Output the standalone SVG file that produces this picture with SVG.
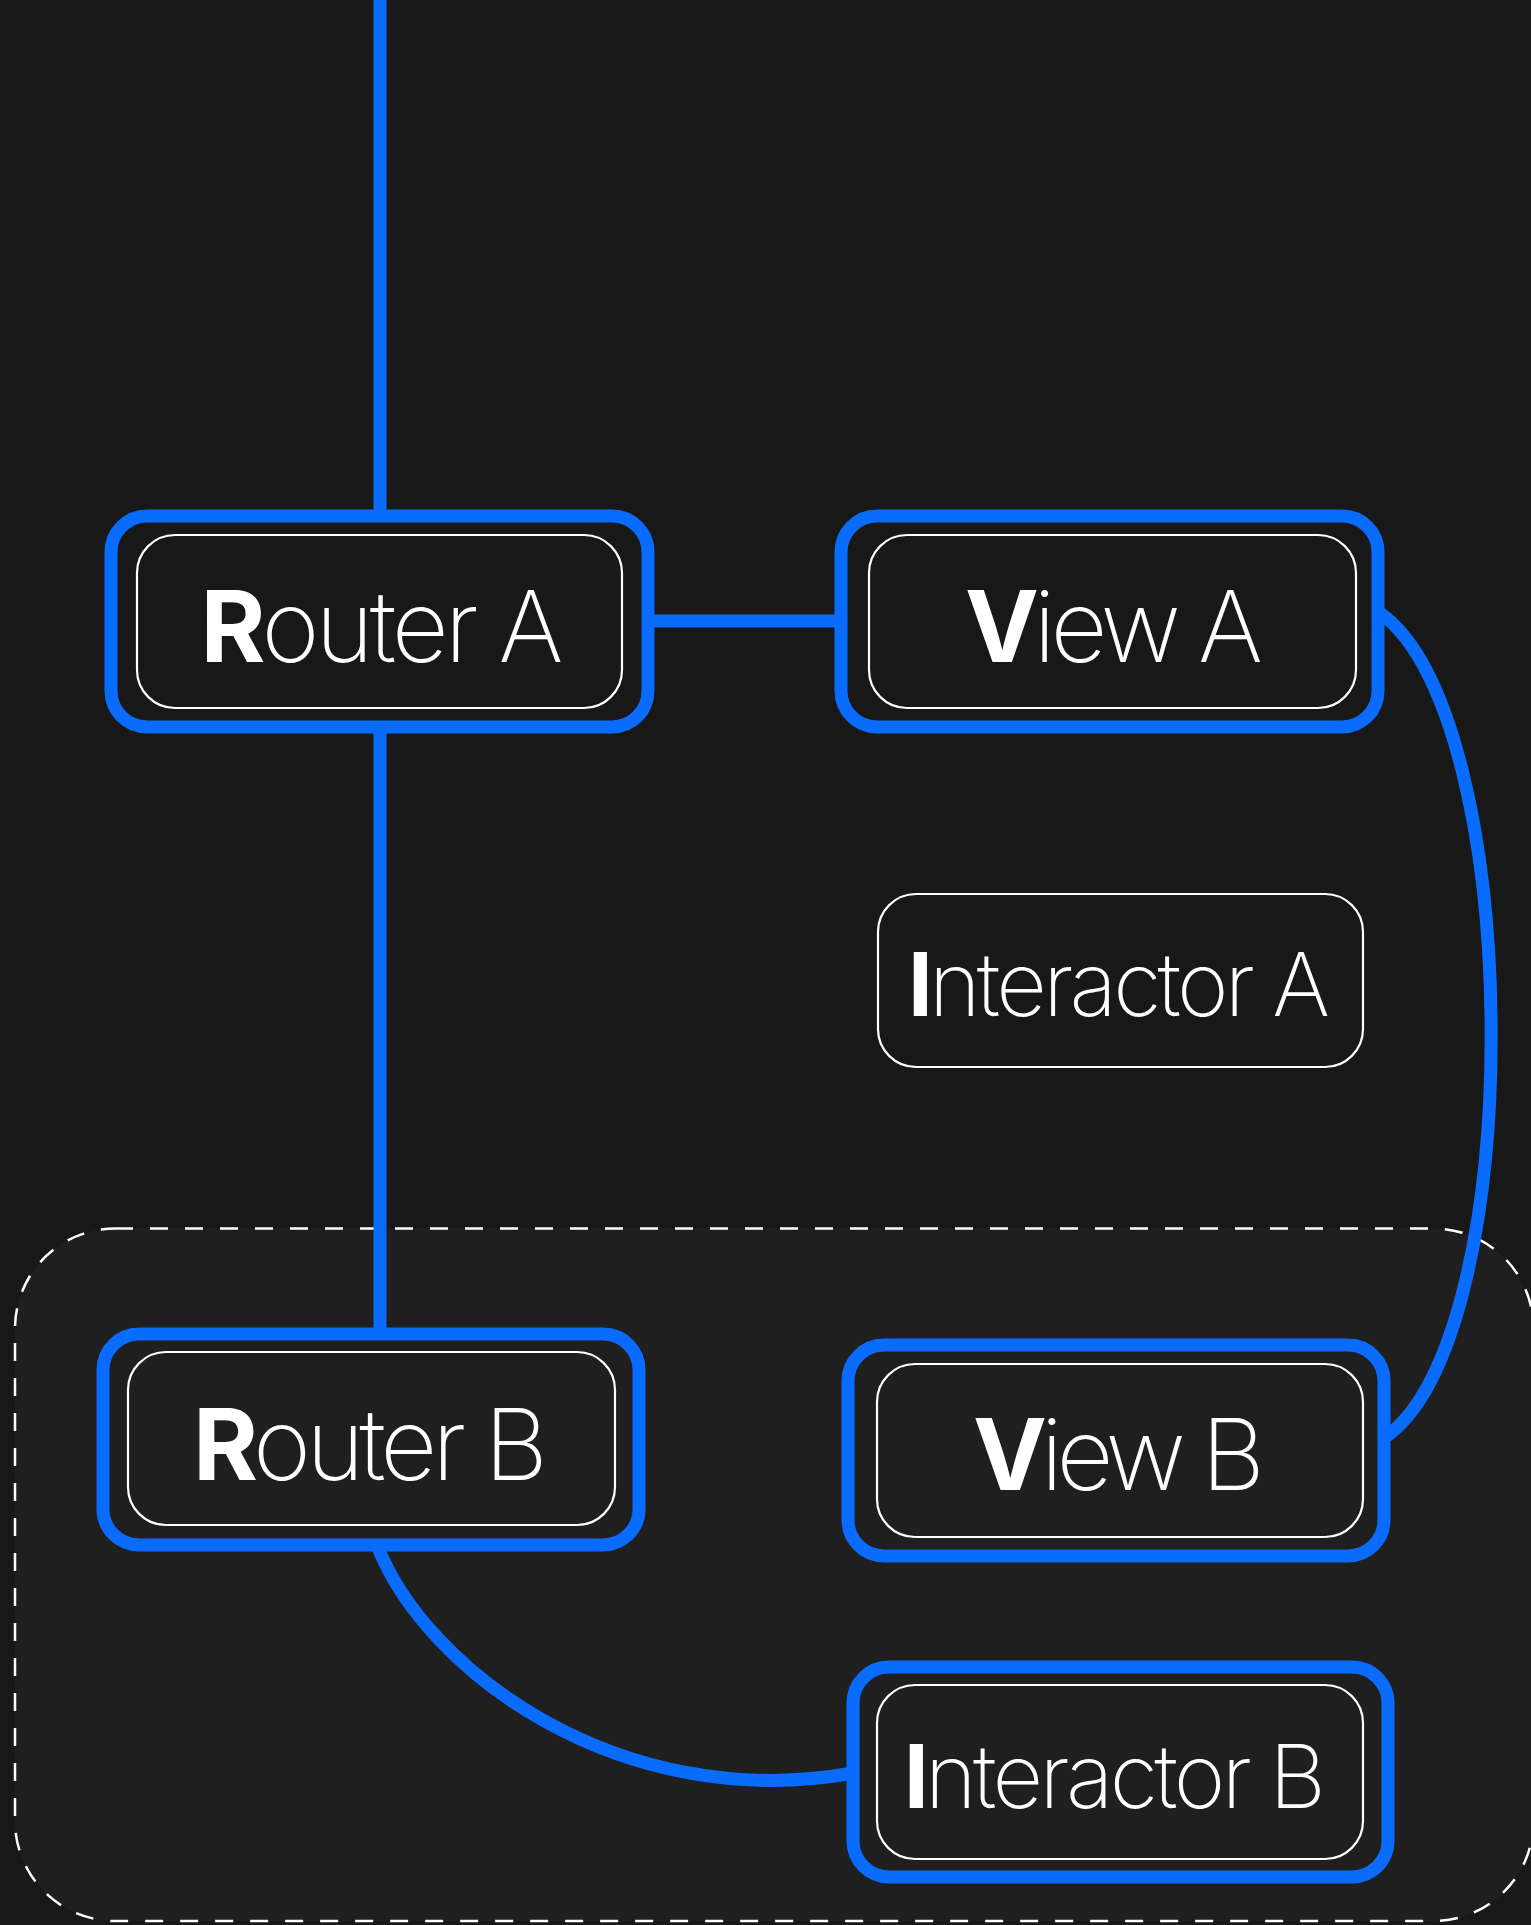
<svg xmlns="http://www.w3.org/2000/svg" width="1531" height="1925" viewBox="0 0 1531 1925">
  <style>
    .frame { fill: none; stroke: #0a6cff; stroke-width: 13; }
    .inner { fill: none; stroke: #ffffff; stroke-width: 2.2; }
    .wire { fill: none; stroke: #0a6cff; stroke-width: 13; }
    .lbl { font-family: Inter, "Liberation Sans", sans-serif; font-weight: 200; fill: #ffffff; text-anchor: middle; }
    .lbl .b { font-weight: 700; }
    .module { fill: #1f1f1f; stroke: #ffffff; stroke-width: 2.5; stroke-dasharray: 18 17; }
  </style>

  <!-- canvas -->
  <rect x="0" y="0" width="1531" height="1925" fill="#181818"/>

  <!-- module B boundary -->
  <g id="module-b">
    <rect class="module" x="15" y="1228.5" width="1518.5" height="692.5" rx="100" ry="100"/>
  </g>

  <!-- connectors -->
  <g id="connectors">
    <path class="wire" d="M380,0 V516"/>
    <path class="wire" d="M380,727 V1334"/>
    <path class="wire" d="M648,621 H841"/>
    <path class="wire" d="M1380,613 C1525,715 1530,1340 1384,1438"/>
    <path class="wire" d="M377,1545 C425,1670 620,1815 853,1773"/>
  </g>

  <!-- nodes -->
  <g id="router-a">
    <rect class="frame" x="111" y="516" width="537" height="211" rx="36"/>
    <rect class="inner" x="137" y="535" width="485" height="173" rx="38"/>
    <text class="lbl" x="382" y="662" font-size="99" textLength="363" lengthAdjust="spacing"><tspan class="b">R</tspan>outer A</text>
  </g>

  <g id="view-a">
    <rect class="frame" x="841" y="516" width="537" height="211" rx="36"/>
    <rect class="inner" x="869" y="535" width="487" height="173" rx="38"/>
    <text class="lbl" x="1114" y="662" font-size="99" textLength="298" lengthAdjust="spacing"><tspan class="b">V</tspan>iew A</text>
  </g>

  <g id="interactor-a">
    <rect class="inner" x="878" y="894" width="485" height="173" rx="38"/>
    <text class="lbl" x="1119" y="1016" font-size="88" textLength="422" lengthAdjust="spacing"><tspan class="b">I</tspan>nteractor A</text>
  </g>

  <g id="router-b">
    <rect class="frame" x="103" y="1334" width="536" height="211" rx="36"/>
    <rect class="inner" x="128" y="1352" width="487" height="173" rx="38"/>
    <text class="lbl" x="370.5" y="1480" font-size="99" textLength="355" lengthAdjust="spacing"><tspan class="b">R</tspan>outer B</text>
  </g>

  <g id="view-b">
    <rect class="frame" x="848" y="1345" width="536" height="211" rx="36"/>
    <rect class="inner" x="877" y="1364" width="486" height="173" rx="38"/>
    <text class="lbl" x="1119" y="1490" font-size="99" textLength="292" lengthAdjust="spacing"><tspan class="b">V</tspan>iew B</text>
  </g>

  <g id="interactor-b">
    <rect class="frame" x="853" y="1667" width="535" height="210" rx="36"/>
    <rect class="inner" x="877" y="1685" width="486" height="174" rx="38"/>
    <text class="lbl" x="1115" y="1808" font-size="88" textLength="422" lengthAdjust="spacing"><tspan class="b">I</tspan>nteractor B</text>
  </g>
</svg>
